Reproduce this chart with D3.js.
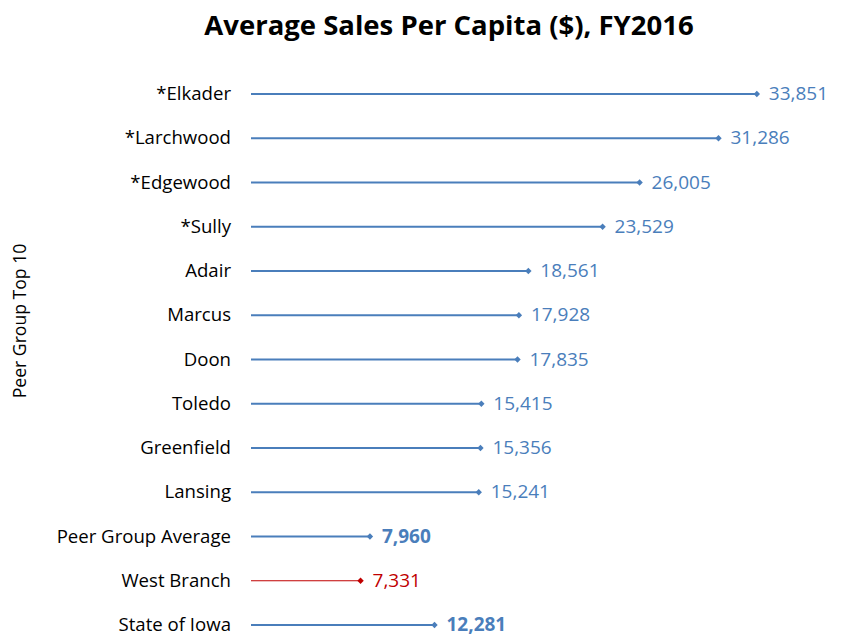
<!DOCTYPE html>
<html lang="en">
  <head>
    <script src="https://d3js.org/d3.v7.min.js"></script>
    <style>
      body { margin: 0; background: white; }
      text { font-family: "Open Sans", sans-serif; }
    </style>
  </head>
  <body>
    <div id="chart"></div>
    <script>
      // names top to bottom
      var names = ["*Elkader", "*Larchwood", "*Edgewood", "*Sully", "Adair", "Marcus", "Doon",
                   "Toledo", "Greenfield", "Lansing", "Peer Group Average", "West Branch", "State of Iowa"]
      var values = [33851, 31286, 26005, 23529, 18561, 17928, 17835,
                    15415, 15356, 15241, 7960, 7331, 12281]
      var highlight = ["West Branch"]
      var boldLabels = ["Peer Group Average", "State of Iowa"]

      var width = 841, height = 637
      var blue = "#4a7ebb", red = "#c00000"

      var svg = d3.select("#chart").append("svg")
        .attr("width", width)
        .attr("height", height)

      var x = d3.scaleLinear().domain([0, 35000]).range([251, 774])
      var y = d3.scalePoint().domain(names).range([94, 625])

      var data = names.map(function(n, i){ return {name: n, value: values[i]} })

      // title
      svg.append("text")
        .attr("x", 449).attr("y", 35)
        .attr("text-anchor", "middle")
        .style("font-size", "27.5px")
        .style("font-weight", "bold")
        .text("Average Sales Per Capita ($), FY2016")

      // axis title
      svg.append("text")
        .attr("transform", "translate(26,321) rotate(-90)")
        .attr("text-anchor", "middle")
        .style("font-size", "17.6px")
        .text("Peer Group Top 10")

      // category labels
      svg.append("g")
        .selectAll("text")
        .data(data)
        .enter().append("text")
        .attr("x", 231)
        .attr("y", function(d){ return y(d.name) })
        .attr("dy", "0.33em")
        .attr("text-anchor", "end")
        .style("font-size", "18.6px")
        .style("fill", "#000")
        .text(function(d){ return d.name })

      var col = function(d){ return highlight.indexOf(d.name) >= 0 ? red : blue }

      // lines
      svg.append("g")
        .selectAll("line")
        .data(data)
        .enter().append("line")
        .attr("x1", x(0))
        .attr("x2", function(d){ return x(d.value) })
        .attr("y1", function(d){ return y(d.name) })
        .attr("y2", function(d){ return y(d.name) })
        .style("stroke", col)
        .style("stroke-width", function(d){ return highlight.indexOf(d.name) >= 0 ? 1 : 2.2 })

      // diamond markers
      svg.append("g")
        .selectAll("path")
        .data(data)
        .enter().append("path")
        .attr("d", d3.symbol().type(d3.symbolDiamond2).size(26))
        .attr("transform", function(d){ return "translate(" + x(d.value) + "," + y(d.name) + ")" })
        .style("fill", col)

      // value labels
      var fmt = d3.format(",")
      svg.append("g")
        .selectAll("text")
        .data(data)
        .enter().append("text")
        .attr("x", function(d){ return x(d.value) + 12 })
        .attr("y", function(d){ return y(d.name) })
        .attr("dy", "0.32em")
        .style("font-size", "19px")
        .style("font-weight", function(d){ return boldLabels.indexOf(d.name) >= 0 ? "bold" : "normal" })
        .style("fill", col)
        .text(function(d){ return fmt(d.value) })
    </script>
  </body>
</html>
